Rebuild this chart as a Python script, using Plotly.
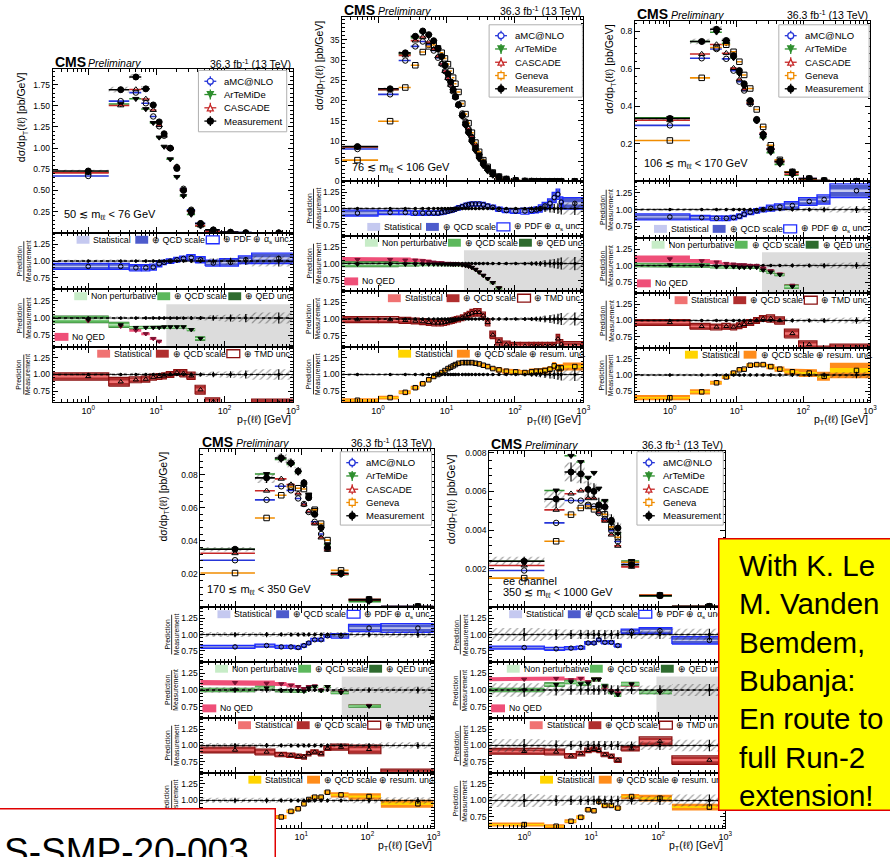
import re
import numpy as np
import plotly.graph_objects as go

W, H = 890, 857
FONT = "Liberation Sans, Arial, Helvetica, sans-serif"

# ============================ DATA ============================
X_RANGE = [0.3, 1000.0]
X_TICKS = [1, 10, 100, 1000]
X_TICK_TEXT = ["10<sup>0</sup>", "10<sup>1</sup>", "10<sup>2</sup>", "10<sup>3</sup>"]
RATIO_RANGE = [0.58, 1.42]
RATIO_TICKS = [0.75, 1.0, 1.25]
RATIO_TICK_TEXT = ["0.75", "1.00", "1.25"]

# ---- 50 < m < 76 GeV ----
P1_EDGES = [0, 2, 4, 6, 8, 10, 12, 14, 18, 22, 28, 37, 52, 85, 160, 250, 1000]
P1_MEAS = [0.73, 1.69, 1.84, 1.70, 1.51, 1.31, 1.17, 1.00, 0.76, 0.50, 0.26, 0.11, 0.035, 0.008, 0.002, 0.0003]
P1_MEAS_UNC = [0.02, 0.02, 0.02, 0.02, 0.02, 0.02, 0.02, 0.02, 0.02, 0.02, 0.03, 0.03, 0.04, 0.05, 0.06, 0.08]
P1_AMC = [0.92, 0.92, 0.90, 0.90, 0.91, 0.96, 0.98, 1.00, 1.02, 1.04, 1.05, 1.02, 0.97, 0.98, 1.02, 1.04]
P1_AMC_UNC = [0.04, 0.04, 0.04, 0.04, 0.04, 0.04, 0.03, 0.03, 0.03, 0.03, 0.04, 0.04, 0.04, 0.05, 0.05, 0.07]
P1_ART = [0.98, 0.90, 0.86, 0.86, 0.86, 0.86, 0.87, 0.87, 0.87, 0.87, 0.83, 0.70, None, None, None, None]
P1_ART_UNC = [0.05, 0.04, 0.02, 0.02, 0.02, 0.02, 0.02, 0.02, 0.02, 0.02, 0.02, 0.03, 0.03, 0.03, 0.03, 0.03]
P1_NOQED = [0.96, 0.88, 0.82, 0.77, 0.70, 0.66, None, None, None, None, None, None, None, None, None, None]
P1_NOQED_UNC = [0.02, 0.02, 0.02, 0.02, 0.02, 0.02, 0.02, 0.02, 0.02, 0.02, 0.02, 0.02, 0.02, 0.02, 0.02, 0.02]
P1_CAS = [0.97, 0.89, 0.92, 0.93, 0.96, 0.97, 0.98, 1.00, 1.03, 1.02, 0.98, 0.77, 0.59, 0.50, 0.50, 0.57]
P1_CAS_UNC = [0.05, 0.06, 0.04, 0.04, 0.04, 0.04, 0.04, 0.04, 0.04, 0.05, 0.05, 0.06, 0.05, 0.05, 0.05, 0.05]
P1_NP_START = 14

# ---- 76 < m < 106 GeV ----
P2_EDGES = [0, 1, 2, 3, 4, 5, 6, 7, 8, 9, 10, 11, 12, 13, 14, 16, 18, 20, 22, 25, 28, 32, 37, 43, 52,
            65, 85, 120, 160, 190, 220, 250, 300, 350, 400, 450, 500, 1000]
P2_MEAS = [8.6, 22.9, 31.8, 35.9, 37.2, 36.3, 34.8, 32.9, 30.9, 28.7,
           26.6, 24.6, 22.7, 21.0, 18.9, 16.3, 14.1, 12.2, 10.2, 8.2,
           6.3, 4.6, 3.2, 2.0, 1.1, 0.55, 0.22, 0.08, 0.035, 0.02,
           0.012, 0.007, 0.004, 0.002, 0.0013, 0.0009, 0.0002]
P2_MEAS_UNC = [0.02, 0.015, 0.015, 0.015, 0.015, 0.015, 0.015, 0.015, 0.015, 0.015,
               0.015, 0.015, 0.015, 0.015, 0.015, 0.015, 0.015, 0.015, 0.015, 0.015,
               0.015, 0.015, 0.015, 0.02, 0.02, 0.02, 0.02, 0.025, 0.03, 0.035,
               0.04, 0.05, 0.06, 0.07, 0.08, 0.09, 0.10]
P2_AMC = [0.93, 0.94, 0.94, 0.93, 0.93, 0.93, 0.93, 0.93, 0.94, 0.95,
          0.96, 0.97, 0.98, 0.99, 1.01, 1.03, 1.05, 1.06, 1.07, 1.07,
          1.07, 1.06, 1.04, 1.02, 0.99, 0.97, 0.96, 0.96, 0.97, 0.98,
          1.00, 1.04, 1.08, 1.17, 1.22, 1.10, 1.08]
P2_AMC_UNC = [0.04, 0.03, 0.03, 0.03, 0.03, 0.03, 0.03, 0.03, 0.03, 0.03,
              0.03, 0.03, 0.03, 0.03, 0.03, 0.03, 0.03, 0.03, 0.03, 0.03,
              0.03, 0.03, 0.03, 0.03, 0.03, 0.03, 0.03, 0.04, 0.04, 0.04,
              0.05, 0.05, 0.06, 0.07, 0.07, 0.07, 0.08]
P2_ART = [0.99, 0.99, 0.99, 0.99, 0.99, 0.99, 0.99, 0.99, 0.99, 0.99,
          0.99, 0.99, 0.99, 0.99, 0.99, 0.98, 0.97, 0.96, 0.94, 0.91,
          0.87, 0.82, 0.77, 0.71, 0.63, None, None, None, None, None,
          None, None, None, None, None, None, None]
P2_ART_UNC = [0.04, 0.04, 0.03, 0.03, 0.02, 0.02, 0.02, 0.02, 0.02, 0.02,
              0.02, 0.02, 0.02, 0.02, 0.02, 0.02, 0.02, 0.02, 0.02, 0.02,
              0.02, 0.02, 0.02, 0.02, 0.02, 0.02, 0.02, 0.02, 0.02, 0.02,
              0.02, 0.02, 0.02, 0.02, 0.02, 0.02, 0.02]
P2_NOQED = [1.06, 1.06, 1.05, 1.05, 1.04, 1.03, 1.02, 1.01, 1.01, 1.00,
            1.00, 1.00, 0.99, 0.99, 0.99, 0.98, 0.97, 0.96, 0.94, 0.91,
            0.87, 0.82, 0.77, 0.71, 0.63, None, None, None, None, None,
            None, None, None, None, None, None, None]
P2_NOQED_UNC = [0.04, 0.04, 0.04, 0.03, 0.03, 0.03, 0.02, 0.02, 0.02, 0.02,
                0.02, 0.02, 0.02, 0.02, 0.02, 0.02, 0.02, 0.02, 0.02, 0.02,
                0.02, 0.02, 0.02, 0.02, 0.02, 0.02, 0.02, 0.02, 0.02, 0.02,
                0.02, 0.02, 0.02, 0.02, 0.02, 0.02, 0.02]
P2_CAS = [0.99, 0.99, 0.98, 0.97, 0.96, 0.95, 0.94, 0.94, 0.94, 0.95,
          0.96, 0.97, 0.98, 0.99, 1.00, 1.02, 1.05, 1.07, 1.09, 1.10,
          1.10, 1.05, 0.95, 0.76, 0.66, 0.61, 0.59, 0.59, 0.59, 0.59,
          0.59, 0.59, 0.59, 0.59, 0.70, 0.62, 0.59]
P2_CAS_UNC = [0.04, 0.04, 0.04, 0.04, 0.04, 0.04, 0.04, 0.04, 0.04, 0.04,
              0.04, 0.04, 0.04, 0.04, 0.04, 0.04, 0.04, 0.04, 0.05, 0.05,
              0.05, 0.05, 0.05, 0.05, 0.05, 0.05, 0.05, 0.05, 0.05, 0.05,
              0.05, 0.05, 0.05, 0.05, 0.06, 0.06, 0.06]
P2_GEN = [0.61, 0.65, 0.73, 0.80, 0.86, 0.92, 0.97, 1.00, 1.03, 1.06,
          1.09, 1.11, 1.13, 1.15, 1.17, 1.18, 1.18, 1.18, 1.18, 1.17,
          1.16, 1.14, 1.12, 1.09, 1.07, 1.05, 1.04, 1.03, 1.04, 1.05,
          1.05, 1.06, 1.08, 1.13, 1.10, 1.10, 1.12]
P2_GEN_UNC = [0.03, 0.03, 0.03, 0.03, 0.03, 0.03, 0.03, 0.03, 0.03, 0.03,
              0.03, 0.03, 0.03, 0.03, 0.03, 0.03, 0.03, 0.03, 0.03, 0.03,
              0.03, 0.03, 0.03, 0.03, 0.04, 0.04, 0.04, 0.04, 0.05, 0.05,
              0.05, 0.05, 0.05, 0.06, 0.06, 0.06, 0.06]
P2_NP_START = 18

# ---- 106 < m < 170 GeV ----
P3_EDGES = [0, 2, 4, 6, 8, 10, 12, 14, 18, 22, 28, 37, 52, 85, 160, 250, 1000]
P3_MEAS = [0.335, 0.745, 0.81, 0.75, 0.67, 0.59, 0.52, 0.43, 0.33, 0.25, 0.17, 0.105, 0.048, 0.014, 0.004, 0.0005]
P3_MEAS_UNC = [0.02, 0.02, 0.02, 0.02, 0.02, 0.02, 0.02, 0.02, 0.02, 0.02, 0.02, 0.02, 0.03, 0.03, 0.04, 0.05]
P3_AMC = [0.89, 0.88, 0.87, 0.87, 0.88, 0.90, 0.93, 0.96, 0.98, 1.00, 1.02, 1.04, 1.06, 1.12, 1.15, 1.28]
P3_AMC_UNC = [0.04, 0.03, 0.03, 0.03, 0.03, 0.03, 0.03, 0.03, 0.03, 0.03, 0.04, 0.04, 0.05, 0.05, 0.06, 0.09]
P3_ART = [1.01, 1.00, 0.98, 0.98, 0.98, 0.97, 0.97, 0.97, 0.97, 0.93, 0.90, 0.86, 0.68, None, None, None]
P3_ART_UNC = [0.03, 0.03, 0.02, 0.02, 0.02, 0.02, 0.02, 0.02, 0.02, 0.02, 0.02, 0.02, 0.03, 0.03, 0.03, 0.03]
P3_NOQED = [1.10, 1.07, 1.05, 1.03, 1.02, 1.01, 1.01, 1.00, 1.00, 0.96, 0.92, 0.87, 0.70, None, None, None]
P3_NOQED_UNC = [0.05, 0.03, 0.03, 0.02, 0.02, 0.02, 0.02, 0.02, 0.02, 0.02, 0.02, 0.02, 0.02, 0.02, 0.02, 0.02]
P3_CAS = [0.97, 0.91, 0.90, 0.91, 0.90, 0.92, 0.94, 0.97, 1.00, 1.03, 1.03, 1.00, 0.80, 0.63, 0.55, 0.58]
P3_CAS_UNC = [0.04, 0.04, 0.04, 0.04, 0.04, 0.04, 0.04, 0.04, 0.04, 0.04, 0.05, 0.05, 0.06, 0.05, 0.05, 0.05]
P3_GEN = [0.65, 0.74, 0.88, 0.97, 1.03, 1.08, 1.09, 1.15, 1.16, 1.16, 1.13, 1.09, 1.05, 1.03, 0.98, 1.07]
P3_GEN_UNC = [0.04, 0.04, 0.03, 0.03, 0.03, 0.03, 0.03, 0.03, 0.03, 0.03, 0.04, 0.04, 0.05, 0.06, 0.07, 0.12]
P3_NP_START = 24

# ---- 170 < m < 350 GeV ----
P4_EDGES = [0, 2, 4, 6, 8, 10, 12, 14, 18, 22, 28, 52, 160, 1000]
P4_MEAS = [0.035, 0.078, 0.090, 0.087, 0.082, 0.075, 0.066, 0.056, 0.048, 0.036, 0.0205, 0.0045, 0.0005]
P4_MEAS_UNC = [0.04, 0.04, 0.03, 0.03, 0.03, 0.03, 0.03, 0.03, 0.03, 0.03, 0.03, 0.04, 0.05]
P4_AMC = [0.81, 0.83, 0.81, 0.81, 0.80, 0.83, 0.87, 0.92, 0.92, 0.98, 0.98, 1.10, 1.10]
P4_AMC_UNC = [0.02, 0.02, 0.02, 0.02, 0.02, 0.02, 0.02, 0.02, 0.02, 0.02, 0.03, 0.05, 0.06]
P4_ART = [1.00, 1.03, 0.99, 0.99, 0.99, 0.98, 1.03, 1.05, 0.99, 1.05, 0.96, 0.76, None]
P4_ART_UNC = [0.03, 0.03, 0.02, 0.02, 0.02, 0.02, 0.02, 0.02, 0.02, 0.02, 0.02, 0.02, 0.02]
P4_NOQED = [1.11, 1.10, 1.09, 1.07, 1.05, 1.02, 1.05, 1.06, 1.00, 1.05, 0.97, 0.77, None]
P4_NOQED_UNC = [0.04, 0.04, 0.03, 0.03, 0.02, 0.02, 0.02, 0.02, 0.02, 0.02, 0.02, 0.02, 0.02]
P4_CAS = [0.93, 0.90, 0.86, 0.85, 0.835, 0.825, 0.875, 0.90, 0.875, 0.96, 0.975, 0.94, 0.58]
P4_CAS_UNC = [0.04, 0.04, 0.03, 0.03, 0.03, 0.03, 0.03, 0.03, 0.03, 0.03, 0.04, 0.06, 0.05]
P4_GEN = [0.59, 0.69, 0.75, 0.835, 0.875, 0.95, 1.015, 1.05, 1.05, 1.125, 1.085, 1.06, 0.95]
P4_GEN_UNC = [0.03, 0.03, 0.03, 0.03, 0.03, 0.03, 0.03, 0.03, 0.03, 0.03, 0.04, 0.05, 0.06]
P4_NP_START = 41

# ---- 350 < m < 1000 GeV ----
P5_EDGES = [0, 2, 4, 6, 8, 10, 12, 14, 18, 22, 28, 52, 160, 1000]
P5_MEAS = [0.00238, 0.0056, 0.0070, 0.0069, 0.0061, 0.0060, 0.0053, 0.0052, 0.0045, 0.0041, 0.0022, 0.0006, 0.00005]
P5_MEAS_UNC = [0.10, 0.08, 0.07, 0.07, 0.07, 0.07, 0.07, 0.07, 0.07, 0.07, 0.06, 0.07, 0.09]
P5_AMC = [0.80, 0.78, 0.79, 0.80, 0.87, 0.87, 0.92, 0.88, 0.88, 0.83, 1.05, 1.06, 0.91]
P5_AMC_UNC = [0.02, 0.02, 0.02, 0.02, 0.02, 0.02, 0.02, 0.02, 0.02, 0.02, 0.03, 0.04, 0.05]
P5_ART = [1.00, 1.08, 1.12, 1.09, 1.10, 1.16, 1.16, 1.06, 0.97, 0.93, 1.09, 0.97, None]
P5_ART_UNC = [0.03, 0.03, 0.03, 0.03, 0.03, 0.03, 0.03, 0.03, 0.03, 0.03, 0.03, 0.03, 0.03]
P5_NOQED = [1.16, 1.17, 1.15, 1.17, 1.12, 1.16, 1.16, 1.04, 0.98, 0.95, 1.08, 0.97, None]
P5_NOQED_UNC = [0.03, 0.03, 0.03, 0.03, 0.03, 0.03, 0.03, 0.03, 0.03, 0.03, 0.03, 0.03, 0.03]
P5_CAS = [0.91, 0.90, 0.84, 0.875, 0.925, 0.94, 0.925, 0.86, 0.835, 0.775, 0.95, 1.065, 0.775]
P5_CAS_UNC = [0.04, 0.04, 0.03, 0.03, 0.03, 0.03, 0.03, 0.03, 0.03, 0.03, 0.03, 0.06, 0.06]
P5_GEN = [0.635, 0.61, 0.685, 0.745, 0.86, 0.845, 0.985, 0.925, 0.925, 0.885, 1.06, 1.035, 0.90]
P5_GEN_UNC = [0.03, 0.03, 0.03, 0.03, 0.03, 0.03, 0.03, 0.03, 0.03, 0.03, 0.04, 0.05, 0.05]
P5_NP_START = 94

MASS_LABELS = ["50 ≲ m<sub>ℓℓ</sub> &lt; 76 GeV", "76 ≲ m<sub>ℓℓ</sub> &lt; 106 GeV",
               "106 ≲ m<sub>ℓℓ</sub> &lt; 170 GeV", "170 ≲ m<sub>ℓℓ</sub> &lt; 350 GeV",
               "350 ≲ m<sub>ℓℓ</sub> &lt; 1000 GeV"]
MAIN_YRANGES = [[0, 1.93], [0, 40.7], [0, 0.855], [0, 0.0955], [0, 0.0081]]
MAIN_YTICKS = [[0.25, 0.5, 0.75, 1.0, 1.25, 1.5, 1.75], [0, 5, 10, 15, 20, 25, 30, 35],
               [0.2, 0.4, 0.6, 0.8], [0.02, 0.04, 0.06, 0.08], [0.002, 0.004, 0.006, 0.008]]
MAIN_YTICKTEXT = [["0.25", "0.50", "0.75", "1.00", "1.25", "1.50", "1.75"],
                  ["0", "5", "10", "15", "20", "25", "30", "35"],
                  ["0.2", "0.4", "0.6", "0.8"], ["0.02", "0.04", "0.06", "0.08"],
                  ["0.002", "0.004", "0.006", "0.008"]]
MAIN_YMINOR_STEP = [0.05, 1, 0.04, 0.004, 0.0004]
LUMI = "36.3 fb<sup>-1</sup> (13 TeV)"
NOTE_LINES = ["With K. Le", "M. Vanden", "Bemdem,", "Bubanja:", "En route to", "full Run-2", "extension!"]
REF_TEXT = "S-SMP-20-003"

# ============================ STYLE / LAYOUT ============================
C = dict(amc="#2636d8", amc_band="#4d5bcc", amc_stat="#c5c9f0", amc_line="#1f2cff",
         art="#2f8f2f", art_band="#5cb85c", art_np="#c7ecc7", art_qed="#2e6b2e",
         noqed="#ef4f78", noqed_mk="#7a1030",
         cas="#c62828", cas_band="#b02e2e", cas_stat="#f07272", cas_line="#8b1010",
         gen="#f08c00", gen_band="#ff8c1a", gen_stat="#ffd400", np_gray="#dcdcdc")
HATCH = dict(shape="/", fgcolor="#3a3a3a", bgcolor="rgba(0,0,0,0)", size=5, solidity=0.22)

PANELS = [
    dict(x=(53, 295), main=(67, 232), ratios=[(232, 289), (289, 347), (347, 403)],
         legend=(200, 68, 289, 130), label=(62, 214), blue_leg="top", ytdx=30),
    dict(x=(345, 588), main=(14, 180), ratios=[(180, 235), (235, 291), (291, 347), (347, 403)],
         legend=(493, 22, 587, 95), label=(353, 167), blue_leg="bottom", ytdx=23),
    dict(x=(640, 877), main=(18, 180), ratios=[(180, 237), (237, 293), (293, 348), (348, 403)],
         legend=(785, 22, 876, 95), label=(647, 163), blue_leg="bottom", ytdx=25),
    dict(x=(202, 437), main=(450, 610), ratios=[(610, 665), (665, 722), (722, 777), (777, 833)],
         legend=(343, 453, 435, 527), label=(207, 593), blue_leg="top", ytdx=37),
    dict(x=(493, 731), main=(452, 610), ratios=[(610, 665), (665, 722), (722, 777), (777, 833)],
         legend=(642, 453, 729, 527), label=(505, 596), blue_leg="top", ytdx=38),
]

DATA = [
    dict(edges=P1_EDGES, meas=P1_MEAS, unc=P1_MEAS_UNC, amc=(P1_AMC, P1_AMC_UNC), art=(P1_ART, P1_ART_UNC),
         noqed=(P1_NOQED, P1_NOQED_UNC), cas=(P1_CAS, P1_CAS_UNC), gen=None, np=P1_NP_START),
    dict(edges=P2_EDGES, meas=P2_MEAS, unc=P2_MEAS_UNC, amc=(P2_AMC, P2_AMC_UNC), art=(P2_ART, P2_ART_UNC),
         noqed=(P2_NOQED, P2_NOQED_UNC), cas=(P2_CAS, P2_CAS_UNC), gen=(P2_GEN, P2_GEN_UNC), np=P2_NP_START),
    dict(edges=P3_EDGES, meas=P3_MEAS, unc=P3_MEAS_UNC, amc=(P3_AMC, P3_AMC_UNC), art=(P3_ART, P3_ART_UNC),
         noqed=(P3_NOQED, P3_NOQED_UNC), cas=(P3_CAS, P3_CAS_UNC), gen=(P3_GEN, P3_GEN_UNC), np=P3_NP_START),
    dict(edges=P4_EDGES, meas=P4_MEAS, unc=P4_MEAS_UNC, amc=(P4_AMC, P4_AMC_UNC), art=(P4_ART, P4_ART_UNC),
         noqed=(P4_NOQED, P4_NOQED_UNC), cas=(P4_CAS, P4_CAS_UNC), gen=(P4_GEN, P4_GEN_UNC), np=P4_NP_START),
    dict(edges=P5_EDGES, meas=P5_MEAS, unc=P5_MEAS_UNC, amc=(P5_AMC, P5_AMC_UNC), art=(P5_ART, P5_ART_UNC),
         noqed=(P5_NOQED, P5_NOQED_UNC), cas=(P5_CAS, P5_CAS_UNC), gen=(P5_GEN, P5_GEN_UNC), np=P5_NP_START),
]

X_MINOR = [m * 10.0 ** k for k in range(-1, 3) for m in range(2, 10)]
RATIO_MINOR = list(np.round(np.arange(0.6, 1.41, 0.05), 3))

fig = go.Figure()
AXES = {}
SHAPES = []
ANNOTS = []
_n = [0]


def X(p):
    return p / W


def Y(p):
    return 1 - p / H


def add_text(x, y, s, size, xanchor="left", yanchor="middle", angle=0, color="black", **kw):
    d = dict(x=X(x), y=Y(y), xref="paper", yref="paper", text=s, showarrow=False,
             xanchor=xanchor, yanchor=yanchor, textangle=angle,
             font=dict(family=FONT, size=size, color=color))
    d.update(kw)
    ANNOTS.append(d)


def text_width(s, fs):
    s = re.sub(r"<[^>]+>", "", s)
    w = 0.0
    for ch in s:
        if ch in "ijl.,:;!|'":
            w += 0.24
        elif ch in "frt-() ":
            w += 0.31
        elif ch in "mwMW":
            w += 0.84
        elif ch == "⊕":
            w += 0.84
        elif ch.isupper():
            w += 0.68
        elif ch.isdigit():
            w += 0.556
        else:
            w += 0.53
    return w * fs


def add_axes(xpx, ypx, yrange, yticks, yticktext, yminor, xlabels):
    _n[0] += 1
    s = "" if _n[0] == 1 else str(_n[0])
    AXES["xaxis" + s] = dict(
        domain=[X(xpx[0]), X(xpx[1])], anchor="y" + s, type="log",
        range=[np.log10(X_RANGE[0]), np.log10(X_RANGE[1])],
        showgrid=False, zeroline=False, showline=True, linecolor="black", linewidth=1,
        mirror="allticks", ticks="inside", ticklen=6, tickcolor="black", tickwidth=1,
        tickmode="array", tickvals=X_TICKS, ticktext=X_TICK_TEXT, showticklabels=xlabels,
        tickfont=dict(family=FONT, size=9, color="black"),
        minor=dict(ticks="inside", ticklen=3, tickcolor="black", tickmode="array", tickvals=X_MINOR),
        fixedrange=True)
    AXES["yaxis" + s] = dict(
        domain=[Y(ypx[1]), Y(ypx[0])], anchor="x" + s, range=yrange,
        showgrid=False, zeroline=False, showline=True, linecolor="black", linewidth=1,
        mirror="allticks", ticks="inside", ticklen=5, tickcolor="black", tickwidth=1,
        tickmode="array", tickvals=yticks, ticktext=yticktext,
        tickfont=dict(family=FONT, size=8.5, color="black"),
        minor=dict(ticks="inside", ticklen=2.5, tickcolor="black", tickmode="array", tickvals=yminor),
        fixedrange=True)
    return "x" + s, "y" + s


def xlo(e):
    return max(e, X_RANGE[0] * 0.8)


def centers(edges):
    return [(a + b) / 2.0 for a, b in zip(edges[:-1], edges[1:])]


def band(xa, ya, edges, mid, half, color=None, pattern=None, scale=1.0):
    segs = []
    for i, v in enumerate(mid):
        if v is None:
            continue
        if segs and segs[-1][-1] == i - 1:
            segs[-1].append(i)
        else:
            segs.append([i])
    for sg in segs:
        xs, ys = [], []
        for i in sg:
            xs += [xlo(edges[i]), edges[i + 1]]
            ys += [mid[i] + half[i] * scale] * 2
        for i in reversed(sg):
            xs += [edges[i + 1], xlo(edges[i])]
            ys += [mid[i] - half[i] * scale] * 2
        tr = dict(x=xs, y=ys, mode="lines", fill="toself", line=dict(width=0),
                  hoverinfo="skip", showlegend=False, xaxis=xa, yaxis=ya)
        if pattern:
            tr["fillcolor"] = "rgba(0,0,0,0)"
            tr["fillpattern"] = pattern
        else:
            tr["fillcolor"] = color
        fig.add_trace(go.Scatter(**tr))


def boxes(xa, ya, edges, mid, half, color, scale=1.0, width=1.2):
    xs, ys = [], []
    for i, v in enumerate(mid):
        if v is None:
            continue
        a, b = xlo(edges[i]), edges[i + 1]
        lo, hi = v - half[i] * scale, v + half[i] * scale
        xs += [a, b, b, a, a, None]
        ys += [lo, lo, hi, hi, lo, None]
    fig.add_trace(go.Scatter(x=xs, y=ys, mode="lines", line=dict(color=color, width=width),
                             hoverinfo="skip", showlegend=False, xaxis=xa, yaxis=ya))


def points(xa, ya, edges, vals, symbol, mcolor="black", size=5, bar_color="black", bar_w=1.5,
           yerr=None, yerr_color="black"):
    c = centers(edges)
    xs, ys, ep, em, ey = [], [], [], [], []
    for i, v in enumerate(vals):
        if v is None:
            continue
        xs.append(c[i])
        ys.append(v)
        em.append(c[i] - xlo(edges[i]))
        ep.append(edges[i + 1] - c[i])
        if yerr is not None:
            ey.append(yerr[i])
    tr = dict(x=xs, y=ys, mode="markers",
              marker=dict(symbol=symbol, size=size, color=mcolor, line=dict(color=mcolor, width=1)),
              error_x=dict(type="data", symmetric=False, array=ep, arrayminus=em, color=bar_color,
                           thickness=bar_w, width=0),
              hoverinfo="skip", showlegend=False, xaxis=xa, yaxis=ya)
    if yerr is not None:
        tr["error_y"] = dict(type="data", array=ey, color=yerr_color, thickness=1.2, width=0)
    fig.add_trace(go.Scatter(**tr))


def rect(x0, y0, x1, y1, fill, line=None, lw=1.0):
    SHAPES.append(dict(type="rect", xref="paper", yref="paper", x0=X(x0), x1=X(x1), y0=Y(y1), y1=Y(y0),
                       fillcolor=fill, line=dict(color=line or fill, width=lw if line else 0), layer="above"))


def seg(x0, y0, x1, y1, color, w=1.2):
    SHAPES.append(dict(type="line", xref="paper", yref="paper", x0=X(x0), x1=X(x1), y0=Y(y0), y1=Y(y1),
                       line=dict(color=color, width=w), layer="above"))


def marker_shape(kind, xc, yc, color, r=3.0):
    if kind in ("circle", "circle-open"):
        SHAPES.append(dict(type="circle", xref="paper", yref="paper", x0=X(xc - r), x1=X(xc + r),
                           y0=Y(yc + r), y1=Y(yc - r), fillcolor=color if kind == "circle" else "white",
                           line=dict(color=color, width=1.3), layer="above"))
        return
    if kind == "tri-down":
        pts = [(xc - r, yc - r), (xc + r, yc - r), (xc, yc + r)]
        fill = color
    elif kind == "tri-up":
        pts = [(xc - r, yc + r), (xc + r, yc + r), (xc, yc - r)]
        fill = "white"
    else:
        pts = [(xc - r, yc - r), (xc + r, yc - r), (xc + r, yc + r), (xc - r, yc + r)]
        fill = "white"
    path = "M " + " L ".join(f"{X(a):.5f},{Y(b):.5f}" for a, b in pts) + " Z"
    SHAPES.append(dict(type="path", xref="paper", yref="paper", path=path, fillcolor=fill,
                       line=dict(color=color, width=1.3), layer="above"))


def ratio_legend(items, xr, yc, fs=8.8, bw=13, bh=8):
    total = sum(bw + 2 + text_width(lbl, fs) + 5 for lbl, _, _ in items) - 5
    x = xr - total
    for lbl, fill, outline in items:
        rect(x, yc - bh / 2, x + bw, yc + bh / 2, fill, outline, 1.3)
        x += bw + 2
        add_text(x, yc, lbl, fs)
        x += text_width(lbl, fs) + 5


LEG_BLUE = [("Statistical", C["amc_stat"], None), ("⊕ QCD scale", C["amc_band"], None),
            ("⊕ PDF ⊕ α<sub>s</sub> unc.", "white", C["amc_line"])]
LEG_GREEN = [("Non perturbative", C["art_np"], None), ("⊕ QCD scale", C["art_band"], None),
             ("⊕ QED unc.", C["art_qed"], None)]
LEG_RED = [("Statistical", C["cas_stat"], None), ("⊕ QCD scale", C["cas_band"], None),
           ("⊕ TMD unc.", "white", C["cas_line"])]
LEG_ORANGE = [("Statistical", C["gen_stat"], None), ("⊕ QCD scale ⊕ resum. unc.", C["gen_band"], None)]


def draw_panel(k):
    lay, d = PANELS[k], DATA[k]
    x0, x1 = lay["x"]
    edges, meas, unc = d["edges"], d["meas"], d["unc"]
    yr = MAIN_YRANGES[k]
    yminor = list(np.arange(0, yr[1], MAIN_YMINOR_STEP[k]))
    xm, ym = add_axes(lay["x"], lay["main"], yr, MAIN_YTICKS[k], MAIN_YTICKTEXT[k], yminor, False)

    models = [("amc", C["amc"], "circle-open", "aMC@NLO", "circle-open"),
              ("art", C["art"], "triangle-down", "ArTeMiDe", "tri-down"),
              ("cas", C["cas"], "triangle-up-open", "CASCADE", "tri-up")]
    if d["gen"] is not None:
        models.append(("gen", C["gen"], "square-open", "Geneva", "square"))

    # ---- main plot ----
    band(xm, ym, edges, meas, [m * u for m, u in zip(meas, unc)], pattern=HATCH)
    for key, col, sym, _, _ in models:
        r = d[key][0]
        vals = [None if rr is None else m * rr for m, rr in zip(meas, r)]
        points(xm, ym, edges, vals, sym, size=5.5, bar_color=col, bar_w=1.6)
    points(xm, ym, edges, meas, "circle", size=6, bar_color="black", bar_w=1.6,
           yerr=[m * u for m, u in zip(meas, unc)])

    # ---- ratio panels ----
    kinds = ["blue", "green", "red"] + (["orange"] if d["gen"] is not None else [])
    for j, (kind, ypx) in enumerate(zip(kinds, lay["ratios"])):
        last = j == len(kinds) - 1
        xa, ya = add_axes(lay["x"], ypx, RATIO_RANGE, RATIO_TICKS, RATIO_TICK_TEXT, RATIO_MINOR, last)
        if kind == "blue":
            r, ru = d["amc"]
            band(xa, ya, edges, r, ru, C["amc_band"])
            band(xa, ya, edges, r, ru, C["amc_stat"], scale=0.22)
            boxes(xa, ya, edges, r, ru, C["amc_line"], scale=1.12, width=1.3)
            sym, items = "circle-open", LEG_BLUE
        elif kind == "green":
            fig.add_trace(go.Scatter(x=[d["np"], edges[-1], edges[-1], d["np"], d["np"]],
                                     y=[0.0, 0.0, 1.2, 1.2, 0.0], mode="lines", fill="toself",
                                     fillcolor=C["np_gray"], line=dict(width=0), hoverinfo="skip",
                                     showlegend=False, xaxis=xa, yaxis=ya))
            nq, nqu = d["noqed"]
            band(xa, ya, edges, nq, nqu, C["noqed"])
            r, ru = d["art"]
            band(xa, ya, edges, r, ru, C["art_qed"], scale=1.15)
            band(xa, ya, edges, r, ru, C["art_band"])
            band(xa, ya, edges, r, ru, C["art_np"], scale=0.25)
            sym, items = "triangle-down", LEG_GREEN
        elif kind == "red":
            r, ru = d["cas"]
            band(xa, ya, edges, r, ru, C["cas_band"])
            band(xa, ya, edges, r, ru, C["cas_stat"], scale=0.3)
            boxes(xa, ya, edges, r, ru, C["cas_line"], scale=1.12, width=1.2)
            sym, items = "triangle-up-open", LEG_RED
        else:
            r, ru = d["gen"]
            band(xa, ya, edges, r, ru, C["gen_band"])
            band(xa, ya, edges, r, ru, C["gen_stat"], scale=0.3)
            sym, items = "square-open", LEG_ORANGE
        # measurement (ratio to itself)
        ones = [m / m for m in meas]
        band(xa, ya, edges, ones, unc, pattern=HATCH)
        cc = centers(edges)
        fig.add_trace(go.Scatter(x=[xlo(edges[0])] + cc + [edges[-1]], y=[1.0] + ones + [1.0], mode="lines",
                                 line=dict(color="black", width=1.4, dash="dot"), hoverinfo="skip",
                                 showlegend=False, xaxis=xa, yaxis=ya))
        points(xa, ya, edges, ones, "circle", size=2.5, bar_color="black", bar_w=0.8, yerr=unc)
        if kind == "green":
            points(xa, ya, edges, d["noqed"][0], "triangle-down", mcolor=C["noqed_mk"], size=4.5,
                   bar_color="rgba(0,0,0,0)", bar_w=0)
        points(xa, ya, edges, r, sym, size=4.5, bar_color="rgba(0,0,0,0)", bar_w=0)

        # legend row
        yt, yb = ypx
        if kind == "blue" and lay["blue_leg"] == "bottom":
            yc = yb - 9
        else:
            yc = yt + 7
        ratio_legend(items, x1 - 3, yc)
        if kind == "green":
            rect(x0 + 2, yb - 14, x0 + 16, yb - 6, C["noqed"])
            add_text(x0 + 18, yb - 10, "No QED", 8.8)
        # y title
        ymid = (yt + yb) / 2
        add_text(x0 - 29, ymid, "Prediction<br>Measurement", 6.8, xanchor="center", yanchor="middle", angle=-90)
        seg(x0 - 29, ymid - 20, x0 - 29, ymid + 20, "black", 0.8)

    # x title
    add_text(x1, lay["ratios"][-1][1] + 18, "p<sub>T</sub>(ℓℓ) [GeV]", 10.5, xanchor="right")
    # header
    ft = lay["main"][0]
    add_text(x0, ft - 7, "<b>CMS</b>", 14)
    add_text(x0 + 34, ft - 6, "<i>Preliminary</i>", 10.5)
    add_text(x1, ft - 6, LUMI, 10.5, xanchor="right")
    # y title main
    add_text(x0 - lay["ytdx"], ft + 1, "dσ/dp<sub>T</sub>(ℓℓ) [pb/GeV]", 10.5, xanchor="center",
             yanchor="top", angle=-90)
    # mass label
    lx, ly = lay["label"]
    if k == 4:
        add_text(lx, ly - 13, "ee channel", 11)
    add_text(lx, ly, MASS_LABELS[k], 11)
    # legend box
    bx0, by0, bx1, by1 = lay["legend"]
    rect(bx0, by0, bx1, by1, "white", "#b0b0b0", 1)
    entries = [(m[3], m[1], m[4]) for m in models] + [("Measurement", "black", "circle")]
    for i, (name, col, kind) in enumerate(entries):
        yc = by0 + 11 + 13.4 * i
        xc = bx0 + 12
        seg(xc - 6, yc, xc + 6, yc, col, 1.3)
        seg(xc, yc - 5, xc, yc + 5, col, 1.3)
        marker_shape(kind, xc, yc, col)
        add_text(bx0 + 24, yc, name, 9.5)


for k in range(5):
    draw_panel(k)

# ---- overlay boxes (drawn last, on top) ----
ANNOTS.append(dict(x=X(724), y=Y(540), xref="paper", yref="paper", xanchor="left", yanchor="top",
                   text=" ", showarrow=False, bgcolor="#ffff00", bordercolor="#e00000", borderwidth=1.5,
                   borderpad=0, width=220, height=270))
add_text(743, 549, "<br>".join(NOTE_LINES), 29.5, xanchor="left", yanchor="top", align="left")
ANNOTS.append(dict(x=X(-12), y=Y(813), xref="paper", yref="paper", xanchor="left", yanchor="top",
                   text=" ", showarrow=False, bgcolor="white", bordercolor="#e00000", borderwidth=1.5,
                   borderpad=0, width=285, height=70))
add_text(2, 834, REF_TEXT, 37, xanchor="left", yanchor="top")

fig.update_layout(width=W, height=H, autosize=False, margin=dict(l=0, r=0, t=0, b=0),
                  paper_bgcolor="white", plot_bgcolor="white", showlegend=False,
                  shapes=SHAPES, annotations=ANNOTS, **AXES)
fig.write_html("out.html", config={"displayModeBar": False},
               post_script="document.body.style.margin='0px';")
